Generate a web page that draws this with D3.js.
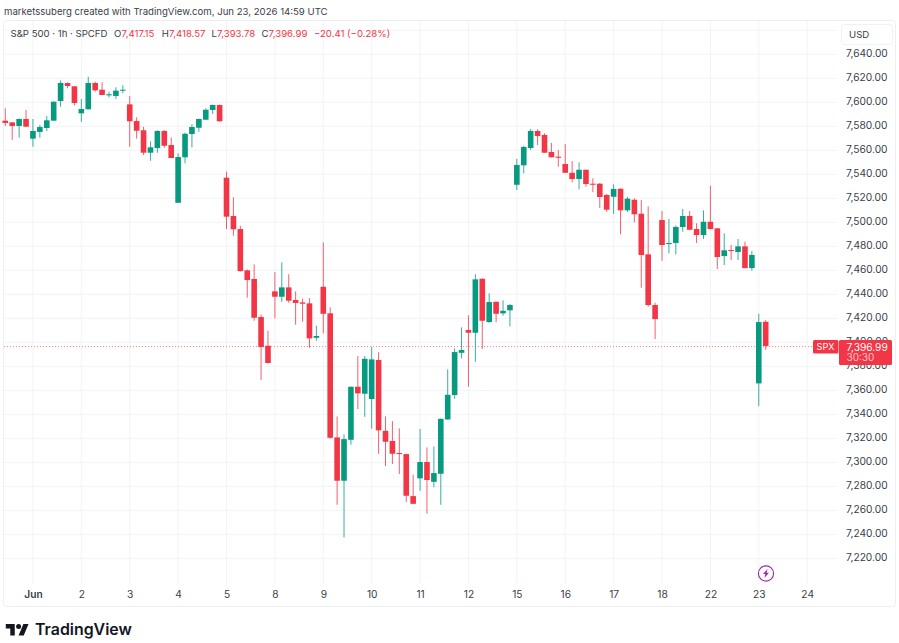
<!DOCTYPE html>
<html>
<head>
<meta charset="utf-8">
<script src="https://cdn.jsdelivr.net/npm/d3@7/dist/d3.min.js"></script>
<style>
  html, body { margin: 0; padding: 0; background: #fff; }
  svg { display: block; }
  text { font-family: Inter, "Noto Sans", sans-serif; }
</style>
</head>
<body>
<svg id="chart"></svg>
<script>
var opens = [7584.7,7583.3,7580.3,7586.1,7569.7,7575.3,7578.6,7584.7,7601.1,7616.1,
  7613.3,7590.8,7594.2,7616.1,7610.5,7605.8,7605.3,7609.7,7598.3,7584.4,
  7576.7,7558.0,7561.9,7576.1,7564.4,7516.3,7554.2,7573.6,7578.8,7585.5,
  7593.6,7597.8,7537.2,7505.3,7494.4,7460.0,7452.8,7421.1,7397.2,7442.5,
  7438.0,7445.8,7435.3,7433.3,7432.5,7403.8,7446.3,7424.2,7320.8,7284.7,
  7318.8,7363.0,7357.2,7352.8,7385.3,7326.3,7317.8,7307.8,7306.9,7271.9,
  7286.7,7300.3,7283.8,7290.5,7335.8,7356.1,7391.3,7410.3,7408.0,7453.0,
  7416.9,7433.8,7424.2,7426.7,7531.3,7547.5,7561.9,7576.1,7572.8,7558.6,
  7554.7,7548.6,7541.3,7536.1,7543.8,7532.2,7532.2,7522.8,7521.3,7528.0,
  7510.0,7518.8,7507.2,7473.3,7431.1,7501.9,7481.9,7482.8,7496.1,7505.3,
  7494.4,7489.4,7500.5,7495.0,7471.9,7476.9,7475.3,7480.0,7461.9,7365.8,7417.15];

var highs = [7595.0,7583.5,7586.5,7593.6,7586.1,7581.1,7588.6,7600.7,7618.3,7616.5,
  7613.6,7602.8,7621.3,7617.2,7616.7,7608.8,7612.5,7614.2,7605.3,7587.5,
  7579.7,7567.5,7576.7,7576.9,7570.8,7557.5,7574.7,7581.7,7586.5,7595.0,
  7598.0,7598.0,7542.2,7520.8,7497.2,7460.8,7465.0,7423.3,7409.7,7458.6,
  7466.7,7456.7,7442.5,7436.3,7436.9,7413.8,7483.3,7429.2,7338.3,7323.3,
  7363.2,7388.6,7388.6,7396.3,7391.7,7338.3,7334.4,7328.3,7307.2,7289.7,
  7327.8,7312.5,7313.3,7336.5,7377.5,7395.0,7412.5,7422.5,7456.7,7453.2,
  7440.8,7434.0,7435.0,7431.9,7552.8,7563.8,7577.8,7577.5,7574.2,7566.1,
  7560.3,7565.3,7551.1,7550.0,7544.0,7536.7,7532.7,7523.6,7531.7,7528.2,
  7521.3,7520.0,7518.6,7513.3,7433.0,7509.4,7502.8,7497.5,7511.1,7509.4,
  7499.2,7510.0,7530.5,7495.2,7490.8,7481.1,7486.1,7483.8,7476.1,7423.8,7418.57];

var lows = [7580.3,7568.6,7570.5,7579.5,7563.0,7570.5,7576.1,7584.7,7596.3,7611.7,
  7597.5,7583.8,7594.0,7608.8,7606.0,7604.2,7602.8,7607.5,7563.0,7569.7,
  7556.1,7551.3,7558.0,7562.2,7553.5,7516.2,7549.2,7562.5,7575.5,7585.4,
  7590.3,7584.0,7494.4,7488.8,7458.9,7437.2,7418.0,7368.6,7382.5,7420.0,
  7433.8,7433.0,7414.7,7417.2,7395.5,7401.3,7407.5,7319.7,7264.7,7237.5,
  7314.7,7344.4,7338.0,7328.0,7307.2,7296.9,7298.6,7290.3,7266.9,7265.3,
  7276.3,7257.2,7279.2,7264.7,7335.5,7353.0,7386.7,7363.0,7383.8,7394.4,
  7416.3,7416.7,7422.2,7413.3,7526.9,7540.8,7560.3,7564.4,7557.8,7554.0,
  7546.3,7541.1,7533.3,7527.5,7529.7,7525.3,7511.9,7508.8,7506.9,7490.0,
  7508.6,7500.0,7445.5,7429.7,7402.8,7468.0,7474.2,7473.3,7492.2,7493.7,
  7482.8,7486.1,7494.2,7461.1,7464.4,7468.6,7468.6,7461.7,7459.7,7346.9,7393.78];

var closes = [7582.8,7580.3,7586.1,7579.7,7576.1,7579.4,7585.0,7600.5,7616.1,7613.6,
  7599.4,7594.4,7616.1,7610.0,7606.1,7606.7,7609.7,7610.5,7584.2,7576.3,
  7558.0,7562.5,7576.1,7563.8,7553.6,7554.4,7573.8,7579.4,7586.1,7593.8,
  7597.8,7584.2,7504.7,7494.2,7459.4,7451.9,7420.5,7396.1,7382.8,7438.0,
  7445.8,7434.7,7432.8,7432.2,7403.3,7405.3,7423.8,7320.5,7284.7,7319.4,
  7363.0,7357.5,7386.3,7385.8,7326.7,7317.2,7307.2,7306.9,7272.2,7265.5,
  7300.3,7285.3,7291.1,7336.3,7356.3,7391.9,7393.6,7408.0,7452.5,7418.0,
  7433.6,7423.8,7426.3,7431.1,7547.8,7562.8,7576.1,7571.9,7558.0,7554.2,
  7553.8,7541.3,7536.1,7543.8,7531.9,7531.3,7521.1,7510.5,7527.8,7510.0,
  7519.7,7506.7,7472.8,7431.1,7419.4,7481.1,7482.8,7496.1,7505.3,7493.8,
  7489.4,7500.5,7494.4,7471.1,7476.7,7476.1,7480.0,7461.9,7472.8,7416.9,7396.99];

// bar index of the first candle of each day on the time axis
var dayLabels = ["Jun","2","3","4","5","8","9","10","11","12","15","16","17","18","22","23","24"];
var dayBars = [4,11,18,25,32,39,46,53,60,67,74,81,88,95,102,109,116];
var priceTicks = [7640,7620,7600,7580,7560,7540,7520,7500,7480,7460,7440,7420,7400,7380,7360,7340,7320,7300,7280,7260,7240,7220];
var gridPrices = [7660].concat(priceTicks);

var lastPrice = 7396.99;
var red = "#F23645", green = "#089981";
var textColor = "#3a3e49";

var w = 899, h = 643;
var svg = d3.select("#chart").attr("width", w).attr("height", h);

var x = d3.scaleLinear().domain([0, 110]).range([5.3, 765.7]);
var y = d3.scaleLinear().domain([7640, 7220]).range([54.3, 558.4]);
var barW = 5.6;

// outer frame
svg.append("rect").attr("x", 3.5).attr("y", 20.5).attr("width", 892).attr("height", 586)
  .attr("rx", 3).attr("fill", "#fff").attr("stroke", "#eeeff2").attr("stroke-width", 1);

// grid
svg.append("g").selectAll("line").data(dayBars).enter().append("line")
  .attr("x1", function(d) { return x(d); }).attr("x2", function(d) { return x(d); })
  .attr("y1", 21).attr("y2", 584).attr("stroke", "#f1f3f6");
svg.append("g").selectAll("line").data(gridPrices).enter().append("line")
  .attr("x1", 4).attr("x2", 838)
  .attr("y1", function(d) { return y(d); }).attr("y2", function(d) { return y(d); })
  .attr("stroke", "#f1f3f6");

// last price line
svg.append("line").attr("x1", 4).attr("x2", 813)
  .attr("y1", y(lastPrice) + 0.6).attr("y2", y(lastPrice) + 0.6)
  .attr("stroke", red).attr("stroke-opacity", 0.6).attr("stroke-dasharray", "1 2");

// candles
var candles = svg.append("g").selectAll("g").data(opens).enter().append("g")
  .attr("fill", function(d, i) { return closes[i] < d ? red : green; })
  .attr("stroke", function(d, i) { return closes[i] < d ? red : green; });

candles.append("line")
  .attr("x1", function(d, i) { return x(i); }).attr("x2", function(d, i) { return x(i); })
  .attr("y1", function(d, i) { return y(highs[i]); }).attr("y2", function(d, i) { return y(lows[i]); })
  .attr("stroke-width", 0.8);

candles.append("rect")
  .attr("x", function(d, i) { return x(i) - barW / 2; })
  .attr("width", barW)
  .attr("y", function(d, i) { return y(Math.max(d, closes[i])); })
  .attr("height", function(d, i) { return Math.max(Math.abs(y(d) - y(closes[i])), 1); })
  .attr("stroke", "none");

// price axis
var priceAxis = svg.append("g").attr("transform", "translate(838,-0.8)")
  .call(d3.axisRight(y).tickValues(priceTicks).tickSize(0).tickPadding(8).tickFormat(d3.format(",.2f")));
priceAxis.select(".domain").remove();
priceAxis.selectAll("text").attr("fill", textColor).style("font-size", "10.2px").style("font-family", "Inter");

// time axis
var timeAxis = svg.append("g").attr("transform", "translate(0,591)")
  .call(d3.axisBottom(x).tickValues(dayBars).tickSize(0).tickPadding(0)
    .tickFormat(function(d, i) { return dayLabels[i]; }));
timeAxis.select(".domain").remove();
timeAxis.selectAll("text").attr("fill", textColor).style("font-size", "10.2px").style("font-family", "Inter")
  .style("font-weight", function(d, i) { return dayLabels[i] == "Jun" ? 600 : 400; });

// USD button
svg.append("rect").attr("x", 841.5).attr("y", 24.5).attr("width", 51).attr("height", 20).attr("rx", 3)
  .attr("fill", "#fff").attr("stroke", "#f0f1f4");
svg.append("text").attr("x", 849).attr("y", 37.5).attr("fill", "#3a3e49").style("font-size", "9.6px").text("USD");

// last price tags
svg.append("rect").attr("x", 813).attr("y", 340).attr("width", 25.5).attr("height", 13.5).attr("rx", 1.5).attr("fill", red);
svg.append("text").attr("x", 825.5).attr("y", 350.4).attr("text-anchor", "middle").attr("fill", "#fff")
  .style("font-size", "9.2px").text("SPX");
svg.append("rect").attr("x", 839).attr("y", 340).attr("width", 53).attr("height", 25).attr("rx", 1.5).attr("fill", red);
svg.append("text").attr("x", 846.5).attr("y", 350.6).attr("fill", "#fff").style("font-size", "10.2px")
  .text(d3.format(",.2f")(lastPrice));
svg.append("text").attr("x", 846.5).attr("y", 361).attr("fill", "#fbc6cb").style("font-size", "10px").text("30:30");

// header
svg.append("text").attr("x", 4).attr("y", 15.2).attr("fill", "#3a3e49").style("font-size", "9.6px")
  .text("marketssuberg created with TradingView.com, Jun 23, 2026 14:59 UTC");

svg.append("text").attr("x", 10.5).attr("y", 36.5).attr("fill", "#3a3e49").style("font-size", "9.6px")
  .text("S&P 500 · 1h · SPCFD");

var legendItems = [
  { k: "O", kx: 114, vx: 121.5, v: "7,417.15" },
  { k: "H", kx: 161.7, vx: 169, v: "7,418.57" },
  { k: "L", kx: 211.5, vx: 217, v: "7,393.78" },
  { k: "C", kx: 261.5, vx: 268.5, v: "7,396.99" }
];
legendItems.forEach(function(d) {
  svg.append("text").attr("x", d.kx).attr("y", 36.5).attr("fill", "#3a3e49").style("font-size", "9.6px").text(d.k);
  svg.append("text").attr("x", d.vx).attr("y", 36.5).attr("fill", red).style("font-size", "9.6px").text(d.v);
});
svg.append("text").attr("x", 314).attr("y", 36.5).attr("fill", red).style("font-size", "9.6px").text("−20.41 (−0.28%)");

// lightning marker
var bolt = svg.append("g").attr("transform", "translate(766,573.5)");
bolt.append("circle").attr("r", 7.6).attr("fill", "#fff").attr("stroke", "#9c27b0").attr("stroke-width", 1.1);
bolt.append("path").attr("d", "M1.6,-4.4 L-3,0.6 L-0.6,0.6 L-1.6,4.4 L3,-0.8 L0.6,-0.8 Z").attr("fill", "#9c27b0");

// logo
svg.append("g").attr("transform", "translate(5.8,621.4) scale(0.64)")
  .append("path").attr("d", "M14 22H7V11H0V4h14v18zM28 22h-8l7.5-18h8L28 22z").attr("fill", "#131722");
svg.append("circle").attr("cx", 18.6).attr("cy", 626.5).attr("r", 2.5).attr("fill", "#131722");
svg.append("text").attr("x", 35).attr("y", 635).attr("fill", "#131722")
  .style("font-size", "15.9px").style("font-weight", 600).text("TradingView");
</script>
</body>
</html>
